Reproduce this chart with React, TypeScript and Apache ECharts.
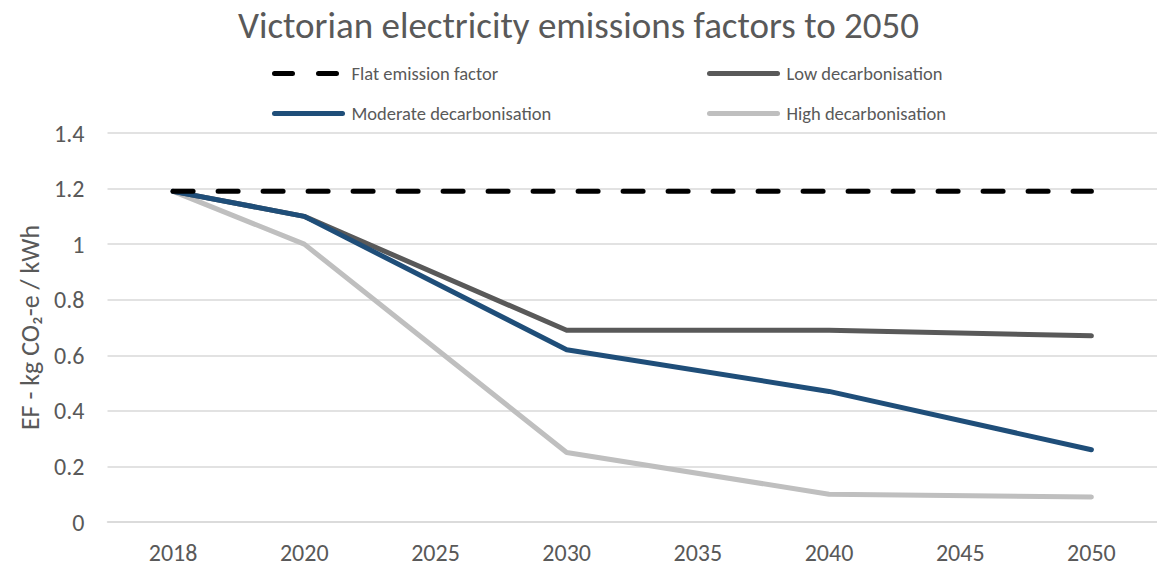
import React, { useEffect, useRef } from "react";
import * as echarts from "echarts";

const years = ["2018", "2020", "2025", "2030", "2035", "2040", "2045", "2050"];
const flat = [1.19, 1.19, 1.19, 1.19, 1.19, 1.19, 1.19, 1.19];
const low = [1.19, 1.1, null, 0.69, null, 0.69, null, 0.67];
const moderate = [1.19, 1.1, null, 0.62, null, 0.47, null, 0.26];
const high = [1.19, 1.0, null, 0.25, null, 0.1, null, 0.09];
const yTicks = [0, 0.2, 0.4, 0.6, 0.8, 1, 1.2, 1.4];

const FONT = "Carlito, 'Liberation Sans Narrow', 'Open Sans', sans-serif";
const TXT = "#595959";

export default function App() {
  const ref = useRef<HTMLDivElement>(null);
  useEffect(() => {
    if (!ref.current) return;
    const chart = echarts.init(ref.current, null, { renderer: "svg" });
    const legendBase = {
      orient: "horizontal",
      padding: 0,
      itemWidth: 68,
      itemHeight: 14,
      itemGap: 0,
      itemStyle: { opacity: 0 },
      textStyle: { color: TXT, fontSize: 18.5, fontFamily: FONT, padding: [0, 0, 0, 4] },
    };
    chart.setOption({
      animation: false,
      backgroundColor: "#ffffff",
      textStyle: { fontFamily: FONT },
      title: {
        text: "Victorian electricity emissions factors to 2050",
        left: "center",
        top: 2,
        textStyle: { color: TXT, fontSize: 37, fontWeight: "normal", fontFamily: FONT },
      },
      legend: [
        {
          ...legendBase,
          data: ["Flat emission factor"],
          left: 272,
          top: 64,
          lineStyle: { width: 5, type: [18, 26], cap: "round", color: "#000" },
        },
        {
          ...legendBase,
          data: ["Low decarbonisation"],
          left: 707,
          top: 64,
          lineStyle: { width: 5, cap: "round", color: "#595959" },
        },
        {
          ...legendBase,
          data: ["Moderate decarbonisation"],
          left: 272,
          top: 104,
          lineStyle: { width: 5, cap: "round", color: "#1F4E79" },
        },
        {
          ...legendBase,
          data: ["High decarbonisation"],
          left: 707,
          top: 104,
          lineStyle: { width: 5, cap: "round", color: "#BFBFBF" },
        },
      ],
      grid: { left: 107.5, right: -7, top: 133, bottom: 43, containLabel: false },
      xAxis: {
        type: "category",
        data: years,
        boundaryGap: true,
        axisLine: { show: true, lineStyle: { color: "#D9D9D9", width: 1.5 } },
        axisTick: { show: false },
        axisLabel: { color: TXT, fontSize: 24, fontFamily: FONT, margin: 18 },
      },
      yAxis: {
        type: "value",
        min: 0,
        max: 1.4,
        interval: 0.2,
        name: "EF - kg CO₂-e / kWh",
        nameLocation: "middle",
        nameGap: 63,
        nameTextStyle: { color: TXT, fontSize: 26, fontFamily: FONT },
        axisLine: { show: false },
        axisTick: { show: false },
        splitLine: { lineStyle: { color: "#D9D9D9", width: 1.5 } },
        axisLabel: {
          color: TXT,
          fontSize: 24,
          fontFamily: FONT,
          margin: 23,
          formatter: (v: number) => {
            const t = yTicks.find((x) => Math.abs(x - v) < 1e-9);
            return String(t !== undefined ? t : v);
          },
        },
      },
      series: [
        {
          name: "Flat emission factor",
          type: "line",
          data: flat,
          symbol: "none",
          z: 5,
          lineStyle: { color: "#000000", width: 5, type: [20, 25], cap: "round" },
          itemStyle: { color: "#000000" },
        },
        {
          name: "Low decarbonisation",
          type: "line",
          data: low,
          connectNulls: true,
          symbol: "none",
          z: 2,
          lineStyle: { color: "#595959", width: 5, cap: "round", join: "round" },
          itemStyle: { color: "#595959" },
        },
        {
          name: "Moderate decarbonisation",
          type: "line",
          data: moderate,
          connectNulls: true,
          symbol: "none",
          z: 3,
          lineStyle: { color: "#1F4E79", width: 5, cap: "round", join: "round" },
          itemStyle: { color: "#1F4E79" },
        },
        {
          name: "High decarbonisation",
          type: "line",
          data: high,
          connectNulls: true,
          symbol: "none",
          z: 1,
          lineStyle: { color: "#BFBFBF", width: 5, cap: "round", join: "round" },
          itemStyle: { color: "#BFBFBF" },
        },
      ],
    });
    return () => chart.dispose();
  }, []);
  return (
    <div
      ref={ref}
      style={{ position: "fixed", left: 0, top: 0, width: 1157, height: 565, background: "#fff" }}
    />
  );
}
